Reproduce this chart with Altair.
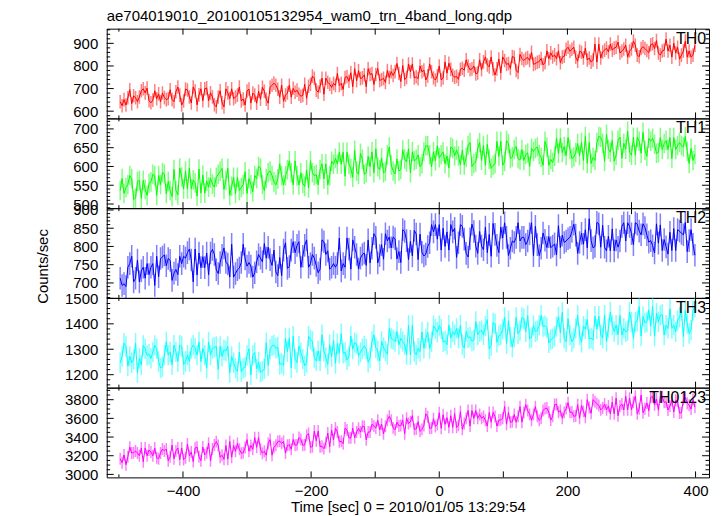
import altair as alt
import pandas as pd

TITLE = "ae704019010_20100105132954_wam0_trn_4band_long.qdp"
X_TITLE = "Time [sec] 0 = 2010/01/05 13:29:54"
Y_TITLE = "Counts/sec"

# light-curve bin centres (sec from 2010/01/05 13:29:54)
T_START, T_STEP, N_BINS = -498, 3, 300
times = [T_START + T_STEP * i for i in range(N_BINS)]

th0 = [
    642, 624, 651, 627, 659, 695, 633, 668, 659, 642,
    663, 690, 699, 681, 702, 646, 637, 649, 690, 655,
    677, 642, 680, 660, 651, 655, 695, 651, 642, 686,
    707, 671, 627, 645, 698, 694, 663, 636, 707, 689,
    628, 672, 699, 646, 699, 703, 646, 681, 663, 628,
    619, 663, 690, 637, 619, 699, 681, 655, 699, 655,
    663, 671, 707, 645, 654, 627, 689, 698, 636, 680,
    671, 635, 688, 653, 706, 688, 653, 635, 706, 715,
    724, 715, 697, 662, 715, 644, 671, 680, 715, 662,
    701, 684, 693, 675, 666, 670, 719, 657, 710, 719,
    755, 746, 693, 684, 711, 746, 675, 746, 728, 719,
    705, 723, 714, 767, 714, 723, 696, 749, 753, 732,
    770, 708, 788, 735, 779, 744, 748, 761, 708, 788,
    762, 766, 718, 762, 789, 736, 740, 745, 727, 780,
    749, 775, 758, 775, 811, 767, 731, 802, 740, 749,
    809, 774, 809, 747, 752, 744, 800, 774, 782, 738,
    756, 809, 774, 747, 738, 756, 800, 738, 747, 818,
    768, 812, 785, 759, 750, 754, 741, 785, 790, 781,
    827, 800, 783, 787, 800, 765, 769, 827, 783, 818,
    840, 804, 796, 840, 787, 760, 787, 831, 769, 840,
    824, 807, 811, 789, 842, 838, 780, 771, 851, 833,
    824, 833, 837, 824, 860, 807, 811, 816, 820, 833,
    805, 814, 867, 832, 858, 840, 849, 832, 867, 814,
    839, 843, 874, 883, 865, 874, 883, 839, 821, 865,
    861, 835, 879, 826, 835, 817, 826, 897, 817, 897,
    835, 862, 870, 879, 862, 897, 870, 879, 883, 906,
    857, 866, 875, 892, 839, 866, 875, 910, 892, 848,
    841, 877, 885, 877, 868, 859, 894, 898, 877, 912,
    857, 848, 866, 870, 919, 866, 892, 839, 901, 857,
    883, 830, 848, 866, 910, 839, 866, 839, 848, 892,
]

th1 = [
    536, 568, 528, 544, 552, 576, 568, 512, 516, 560,
    563, 515, 563, 539, 523, 555, 559, 579, 575, 523,
    576, 552, 584, 580, 528, 560, 536, 520, 592, 536,
    524, 596, 572, 540, 588, 540, 596, 540, 564, 556,
    521, 593, 529, 577, 529, 561, 545, 569, 553, 545,
    571, 579, 587, 595, 539, 563, 595, 523, 547, 571,
    528, 571, 536, 544, 552, 586, 528, 568, 552, 533,
    576, 568, 600, 596, 552, 536, 568, 584, 588, 576,
    559, 551, 567, 607, 575, 551, 575, 591, 615, 583,
    551, 615, 575, 551, 583, 555, 547, 591, 543, 615,
    583, 575, 579, 551, 591, 607, 567, 607, 551, 575,
    614, 606, 622, 606, 638, 606, 638, 574, 638, 606,
    595, 571, 643, 587, 579, 635, 619, 579, 583, 627,
    599, 639, 583, 647, 599, 591, 623, 583, 587, 631,
    652, 604, 588, 580, 620, 588, 592, 644, 620, 612,
    647, 583, 639, 615, 619, 631, 599, 607, 639, 655,
    655, 631, 599, 639, 615, 655, 623, 631, 639, 607,
    628, 596, 652, 648, 628, 644, 628, 604, 644, 604,
    624, 656, 664, 600, 608, 612, 648, 664, 616, 656,
    603, 659, 619, 595, 603, 607, 667, 627, 667, 603,
    613, 669, 661, 621, 625, 645, 653, 621, 617, 645,
    616, 632, 636, 600, 648, 640, 648, 652, 632, 624,
    603, 667, 651, 603, 619, 611, 627, 675, 635, 675,
    637, 653, 629, 677, 645, 621, 625, 637, 661, 629,
    664, 616, 680, 608, 664, 608, 624, 616, 664, 680,
    678, 662, 614, 686, 646, 638, 670, 614, 630, 670,
    678, 622, 662, 646, 694, 638, 630, 678, 630, 678,
    667, 635, 691, 643, 627, 675, 667, 675, 659, 635,
    637, 677, 645, 661, 669, 645, 677, 621, 677, 645,
    656, 664, 656, 652, 680, 640, 608, 648, 616, 632,
]

th2 = [
    713, 693, 698, 690, 743, 753, 773, 703, 713, 763,
    703, 733, 743, 713, 753, 723, 743, 753, 693, 773,
    717, 767, 771, 777, 747, 767, 762, 707, 727, 737,
    723, 773, 753, 773, 768, 783, 793, 763, 703, 793,
    722, 782, 742, 772, 742, 782, 722, 782, 792, 778,
    736, 726, 756, 776, 796, 756, 752, 716, 806, 716,
    726, 736, 741, 756, 806, 766, 746, 756, 746, 716,
    728, 758, 778, 768, 758, 808, 768, 798, 764, 748,
    790, 730, 720, 770, 720, 790, 810, 740, 745, 790,
    813, 783, 803, 813, 743, 773, 803, 818, 743, 753,
    778, 768, 748, 728, 738, 818, 813, 778, 788, 738,
    743, 753, 743, 753, 823, 733, 753, 743, 823, 793,
    738, 818, 798, 778, 738, 768, 778, 782, 748, 818,
    755, 795, 835, 825, 755, 775, 805, 765, 835, 815,
    826, 796, 826, 821, 766, 786, 756, 846, 841, 816,
    764, 814, 774, 844, 834, 764, 834, 784, 774, 779,
    800, 810, 860, 840, 860, 820, 860, 790, 850, 800,
    840, 790, 860, 840, 850, 770, 810, 860, 855, 820,
    781, 771, 821, 861, 841, 801, 781, 841, 801, 791,
    853, 783, 833, 773, 863, 833, 803, 783, 853, 823,
    865, 825, 775, 795, 815, 811, 825, 865, 815, 825,
    825, 805, 815, 835, 865, 775, 855, 805, 775, 795,
    837, 817, 797, 827, 797, 801, 807, 777, 857, 797,
    831, 811, 815, 821, 825, 841, 861, 831, 781, 811,
    836, 806, 846, 796, 876, 816, 796, 800, 866, 862,
    798, 858, 798, 788, 828, 788, 848, 788, 818, 798,
    815, 855, 865, 815, 865, 855, 835, 805, 865, 861,
    842, 832, 862, 852, 832, 812, 816, 802, 782, 862,
    809, 859, 789, 819, 799, 779, 839, 789, 849, 789,
    846, 842, 836, 832, 866, 786, 816, 846, 806, 776,
]

th3 = [
    1247, 1272, 1324, 1311, 1234, 1272, 1247, 1260, 1324, 1208,
    1264, 1238, 1315, 1302, 1276, 1281, 1264, 1289, 1315, 1302,
    1252, 1226, 1231, 1277, 1329, 1277, 1290, 1239, 1316, 1290,
    1252, 1316, 1311, 1239, 1252, 1277, 1252, 1303, 1316, 1303,
    1277, 1329, 1252, 1303, 1277, 1226, 1329, 1277, 1303, 1308,
    1311, 1221, 1311, 1272, 1298, 1293, 1311, 1208, 1272, 1247,
    1225, 1212, 1289, 1212, 1225, 1230, 1276, 1302, 1199, 1276,
    1287, 1223, 1249, 1210, 1214, 1223, 1326, 1236, 1300, 1313,
    1317, 1304, 1309, 1240, 1245, 1237, 1343, 1291, 1343, 1227,
    1351, 1261, 1248, 1312, 1287, 1261, 1235, 1248, 1351, 1338,
    1331, 1267, 1254, 1293, 1254, 1357, 1293, 1267, 1241, 1318,
    1271, 1335, 1245, 1322, 1284, 1361, 1284, 1288, 1258, 1271,
    1352, 1301, 1326, 1321, 1275, 1288, 1301, 1313, 1301, 1249,
    1267, 1331, 1357, 1306, 1293, 1254, 1331, 1306, 1293, 1280,
    1382, 1343, 1338, 1330, 1369, 1318, 1343, 1330, 1318, 1279,
    1394, 1278, 1394, 1291, 1278, 1304, 1291, 1368, 1304, 1342,
    1367, 1303, 1329, 1393, 1380, 1367, 1393, 1380, 1329, 1333,
    1318, 1395, 1344, 1369, 1356, 1382, 1344, 1395, 1318, 1305,
    1370, 1345, 1349, 1332, 1336, 1409, 1357, 1370, 1374, 1357,
    1391, 1417, 1301, 1314, 1404, 1400, 1327, 1353, 1357, 1378,
    1425, 1322, 1412, 1348, 1309, 1348, 1425, 1361, 1373, 1425,
    1420, 1369, 1433, 1343, 1347, 1394, 1369, 1373, 1394, 1433,
    1389, 1393, 1385, 1325, 1338, 1342, 1351, 1389, 1428, 1364,
    1446, 1343, 1330, 1420, 1356, 1330, 1343, 1382, 1433, 1356,
    1327, 1391, 1379, 1417, 1340, 1344, 1336, 1430, 1379, 1430,
    1357, 1344, 1434, 1331, 1383, 1447, 1395, 1370, 1395, 1357,
    1433, 1356, 1382, 1369, 1373, 1446, 1407, 1343, 1407, 1411,
    1468, 1352, 1429, 1404, 1408, 1455, 1391, 1468, 1352, 1442,
    1408, 1433, 1437, 1356, 1395, 1382, 1459, 1382, 1395, 1369,
    1413, 1426, 1452, 1349, 1452, 1401, 1362, 1375, 1452, 1465,
]

th0123 = [
    3167, 3125, 3208, 3104, 3188, 3292, 3229, 3233, 3250, 3229,
    3199, 3282, 3136, 3282, 3199, 3261, 3240, 3199, 3282, 3178,
    3168, 3230, 3272, 3251, 3272, 3147, 3189, 3314, 3168, 3251,
    3283, 3158, 3283, 3158, 3179, 3325, 3200, 3241, 3137, 3283,
    3293, 3189, 3147, 3293, 3210, 3231, 3335, 3147, 3272, 3314,
    3351, 3309, 3184, 3205, 3163, 3309, 3163, 3351, 3184, 3309,
    3248, 3331, 3269, 3227, 3231, 3289, 3373, 3248, 3310, 3269,
    3394, 3290, 3394, 3269, 3227, 3248, 3206, 3331, 3373, 3206,
    3291, 3312, 3353, 3357, 3332, 3353, 3228, 3312, 3316, 3270,
    3374, 3312, 3316, 3395, 3374, 3312, 3316, 3416, 3437, 3291,
    3297, 3464, 3360, 3464, 3297, 3301, 3276, 3339, 3443, 3297,
    3475, 3371, 3496, 3454, 3350, 3354, 3329, 3496, 3475, 3392,
    3391, 3495, 3391, 3453, 3495, 3453, 3516, 3512, 3370, 3453,
    3455, 3538, 3517, 3496, 3580, 3476, 3538, 3434, 3517, 3580,
    3623, 3581, 3498, 3477, 3560, 3519, 3523, 3581, 3435, 3602,
    3545, 3565, 3628, 3482, 3486, 3565, 3461, 3482, 3524, 3649,
    3618, 3493, 3497, 3597, 3514, 3535, 3660, 3493, 3639, 3535,
    3608, 3504, 3629, 3504, 3650, 3504, 3525, 3671, 3483, 3546,
    3600, 3684, 3517, 3684, 3600, 3684, 3600, 3642, 3600, 3621,
    3580, 3517, 3663, 3559, 3663, 3621, 3517, 3580, 3584, 3601,
    3726, 3538, 3663, 3559, 3563, 3642, 3559, 3622, 3726, 3559,
    3663, 3747, 3684, 3643, 3580, 3643, 3726, 3622, 3580, 3601,
    3685, 3706, 3710, 3665, 3581, 3623, 3748, 3752, 3665, 3685,
    3601, 3664, 3705, 3768, 3664, 3668, 3622, 3626, 3747, 3601,
    3737, 3675, 3612, 3800, 3716, 3654, 3800, 3779, 3758, 3737,
    3691, 3712, 3753, 3691, 3732, 3649, 3774, 3649, 3816, 3628,
    3733, 3753, 3691, 3837, 3691, 3816, 3691, 3774, 3837, 3649,
    3703, 3849, 3661, 3703, 3765, 3682, 3828, 3832, 3745, 3807,
    3689, 3835, 3831, 3772, 3776, 3689, 3731, 3793, 3668, 3793,
    3782, 3657, 3661, 3803, 3824, 3761, 3741, 3699, 3803, 3720,
]

series = [th0, th1, th2, th3, th0123]
names = ["TH0", "TH1", "TH2", "TH3", "TH0123"]
colors = ["#ff0000", "#00ff00", "#0000ff", "#00ffff", "#ff00ff"]
errors = [30, 26, 31, 40, 64]
y_domains = [[568, 965], [489, 728], [659, 905], [1149, 1502], [2968, 3929]]
y_major = [
    [600, 700, 800, 900],
    [500, 550, 600, 650, 700],
    [700, 750, 800, 850, 900],
    [1200, 1300, 1400, 1500],
    [3000, 3200, 3400, 3600, 3800],
]
y_minor_step = [20, 10, 10, 20, 50]
x_domain = [-519, 421]
x_labels = [-400, -200, 0, 200, 400]
x_ticks_long = [-400, -300, -200, -100, 0, 100, 200, 300, 400]
x_ticks_short = [-500]

W, H = 604, 90
FONT = "Liberation Sans"


def panel(k):
    color = colors[k]
    err = errors[k]
    lo_d, hi_d = y_domains[k]
    step = y_minor_step[k]
    bottom = k == len(series) - 1

    xs = alt.Scale(domain=x_domain, nice=False, zero=False)
    ys = alt.Scale(domain=y_domains[k], nice=False, zero=False)
    if bottom:
        xax = alt.Axis(values=x_labels, ticks=False, domain=False, grid=False,
                       labelFontSize=15, labelPadding=6, labelFlush=False,
                       format="d", title=X_TITLE, titleFontSize=15,
                       titlePadding=1, titleFontWeight="normal")
        X = alt.X("t:Q", scale=xs, axis=xax)
    else:
        X = alt.X("t:Q", scale=xs, axis=None)

    common = dict(values=y_major[k], ticks=False, domain=False, grid=False,
                  labelFontSize=15, labelPadding=9, labelFlush=False,
                  labelOverlap=False, format="d")
    if k == 2:
        yax = alt.Axis(title=Y_TITLE, titleFontSize=15, titlePadding=22,
                       titleFontWeight="normal", titleY=58, **common)
    else:
        yax = alt.Axis(title=None, **common)

    df = pd.DataFrame({"t": times, "v": series[k]})

    errbars = (
        alt.Chart(df)
        .transform_calculate(lo=f"datum.v - {err}", hi=f"datum.v + {err}")
        .mark_rule(color=color, opacity=0.5, strokeWidth=1.5, clip=True)
        .encode(x=X, y=alt.Y("lo:Q", scale=ys, axis=yax), y2="hi:Q")
    )
    line = (
        alt.Chart(df)
        .mark_line(color=color, strokeWidth=1, clip=True)
        .encode(x=X, y=alt.Y("v:Q", scale=ys, axis=yax))
    )

    minor_vals = [v for v in range((lo_d // step + 1) * step, hi_d + 1, step)
                  if v not in y_major[k]]

    def yticks(vals, x0, x1):
        return (
            alt.Chart(pd.DataFrame({"v": vals}))
            .mark_rule(color="black", strokeWidth=1)
            .encode(y=alt.Y("v:Q", scale=ys, axis=yax),
                    x=alt.value(x0), x2=alt.value(x1))
        )

    def xticks(vals, y0, y1):
        return (
            alt.Chart(pd.DataFrame({"t": vals}))
            .mark_rule(color="black", strokeWidth=1)
            .encode(x=X, y=alt.value(y0), y2=alt.value(y1))
        )

    label = (
        alt.Chart(pd.DataFrame({"name": [names[k]]}))
        .mark_text(align="right", baseline="middle", fontSize=16, font=FONT,
                   color="black")
        .encode(x=alt.value(W - 3), y=alt.value(10), text="name:N")
    )

    layers = [
        errbars, line,
        yticks(y_major[k], 0, 7), yticks(minor_vals, 0, 3.5),
        yticks(y_major[k], W - 7, W), yticks(minor_vals, W - 3.5, W),
        xticks(x_ticks_long, 0, 6), xticks(x_ticks_short, 0, 3),
        xticks(x_ticks_long, H - 6, H), xticks(x_ticks_short, H - 3, H),
        label,
    ]
    ch = alt.layer(*layers).properties(width=W, height=H)
    if k == 0:
        ch = ch.properties(title=alt.TitleParams(
            text=TITLE, anchor="start", frame="group", offset=4,
            fontSize=15, font=FONT, fontWeight="normal", color="black"))
    return ch


chart = (
    alt.vconcat(*[panel(k) for k in range(len(series))], spacing=0,
                bounds="flush")
    .properties(padding={"left": 27, "top": 0, "right": 5, "bottom": 0})
    .configure_view(stroke="black", strokeWidth=1)
    .configure_axis(labelFont=FONT, titleFont=FONT, labelColor="black",
                    titleColor="black")
)

chart.save("out.html", embed_options={"renderer": "svg", "actions": False})
